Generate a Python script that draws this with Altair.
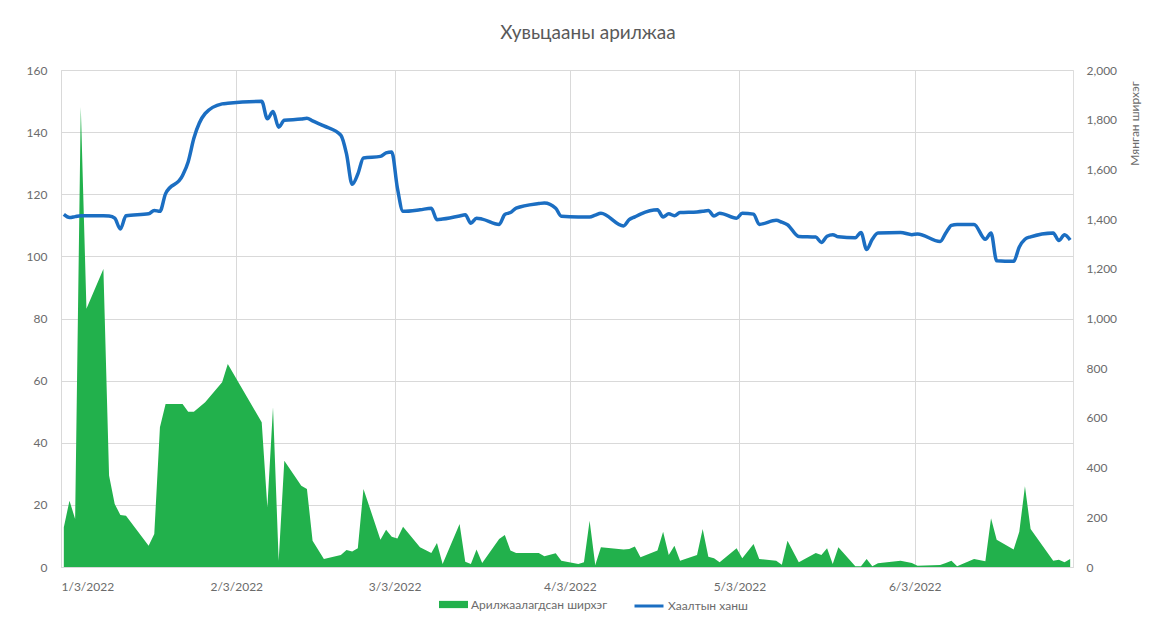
import altair as alt
import pandas as pd

FONT = "Lato"
GREEN = "#22B14C"
BLUE = "#1B6EC2"
TEXT = "#6b6b6b"
GRID = "#d9d9d9"

TITLE = "Хувьцааны арилжаа"
SERIES_AREA = "Арилжаалагдсан ширхэг"
SERIES_LINE = "Хаалтын ханш"
RIGHT_TITLE = "Мянган ширхэг"

dates = [
    "2022-01-03", "2022-01-04", "2022-01-05", "2022-01-06", "2022-01-07",
    "2022-01-10", "2022-01-11", "2022-01-12", "2022-01-13", "2022-01-14",
    "2022-01-18", "2022-01-19", "2022-01-20", "2022-01-21", "2022-01-24",
    "2022-01-25", "2022-01-26", "2022-01-28", "2022-01-31", "2022-02-01",
    "2022-02-07", "2022-02-08", "2022-02-09", "2022-02-10", "2022-02-11",
    "2022-02-14", "2022-02-15", "2022-02-16", "2022-02-18", "2022-02-21",
    "2022-02-22", "2022-02-23", "2022-02-24", "2022-02-25", "2022-02-28",
    "2022-03-01", "2022-03-02", "2022-03-03", "2022-03-04", "2022-03-07",
    "2022-03-09", "2022-03-10", "2022-03-11", "2022-03-14", "2022-03-15",
    "2022-03-16", "2022-03-17", "2022-03-18", "2022-03-21", "2022-03-22",
    "2022-03-23", "2022-03-24", "2022-03-28", "2022-03-29", "2022-03-31",
    "2022-04-01", "2022-04-04", "2022-04-05", "2022-04-06", "2022-04-07",
    "2022-04-08", "2022-04-12", "2022-04-13", "2022-04-14", "2022-04-15",
    "2022-04-18", "2022-04-19", "2022-04-20", "2022-04-21", "2022-04-22",
    "2022-04-25", "2022-04-26", "2022-04-27", "2022-04-28", "2022-04-29",
    "2022-05-02", "2022-05-03", "2022-05-05", "2022-05-06", "2022-05-09",
    "2022-05-10", "2022-05-11", "2022-05-13", "2022-05-16", "2022-05-17",
    "2022-05-18", "2022-05-19", "2022-05-20", "2022-05-23", "2022-05-24",
    "2022-05-25", "2022-05-26", "2022-05-27", "2022-05-31", "2022-06-02",
    "2022-06-03", "2022-06-07", "2022-06-08", "2022-06-09", "2022-06-10",
    "2022-06-13", "2022-06-15", "2022-06-16", "2022-06-17", "2022-06-20",
    "2022-06-21", "2022-06-22", "2022-06-23", "2022-06-27", "2022-06-28",
    "2022-06-29", "2022-06-30",
]

# traded volume, thousand shares (right axis)
volume = [
    160, 267, 193, 1851, 1039,
    1199, 368, 254, 209, 206,
    86, 133, 562, 656, 656,
    625, 625, 663, 743, 817,
    582, 240, 643, 25, 428,
    327, 314, 106, 32, 48,
    68, 62, 75, 314, 110,
    150, 122, 115, 162, 79,
    56, 97, 12, 173, 21,
    12, 70, 16, 113, 129,
    66, 56, 56, 43, 55,
    25, 12, 19, 186, 8,
    79, 70, 72, 83, 39,
    66, 142, 48, 86, 25,
    48, 153, 41, 35, 19,
    75, 35, 93, 32, 25,
    9, 106, 19, 56, 48,
    75, 12, 79, 3, 3,
    32, 3, 15, 25, 16,
    5, 8, 16, 25, 3,
    32, 23, 196, 110, 70,
    142, 325, 153, 25, 29,
    19, 32,
]

# closing price (left axis)
close = [
    113.5, 112.5, 112.8, 113.1, 113.1,
    113.1, 113.0, 112.3, 108.8, 113.1,
    113.7, 114.8, 114.5, 120.2, 126.0,
    130.5, 138.0, 146.0, 149.1, 149.3,
    149.9, 144.3, 146.6, 141.6, 143.8,
    144.2, 144.5, 143.6, 142.0, 139.0,
    133.0, 123.2, 126.5, 131.7, 132.2,
    133.3, 133.6, 122.0, 114.5, 115.0,
    115.5, 111.8, 112.0, 113.0, 113.4,
    110.7, 112.3, 112.0, 110.3, 113.5,
    114.1, 115.5, 117.0, 117.2, 115.5,
    112.9, 112.7, 112.7, 112.7, 113.3,
    113.9, 109.8, 111.8, 112.7, 113.6,
    115.0, 112.7, 113.7, 113.1, 114.1,
    114.3, 114.5, 114.8, 113.0, 113.9,
    112.3, 113.9, 113.6, 110.3, 111.6,
    111.0, 110.2, 106.4, 106.2, 104.5,
    106.5, 107.0, 106.3, 106.0, 107.7,
    102.2, 105.5, 107.5, 107.7, 107.0,
    107.2, 104.8, 107.5, 110.0, 110.3,
    110.3, 105.5, 107.5, 98.6, 98.4,
    103.0, 105.5, 106.3, 107.5, 105.1,
    107.0, 105.3,
]

x_tick_days = [(1, 3), (2, 3), (3, 3), (4, 3), (5, 3), (6, 3)]
left_ticks = [0, 20, 40, 60, 80, 100, 120, 140, 160]
right_ticks = [0, 200, 400, 600, 800, 1000, 1200, 1400, 1600, 1800, 2000]

df = pd.DataFrame({
    "date": pd.to_datetime(dates) + pd.Timedelta(hours=12),
    "volume": volume,
    "close": close,
    "area_series": SERIES_AREA,
    "line_series": SERIES_LINE,
})

x_enc = alt.X(
    "date:T",
    title=None,
    scale=alt.Scale(domain=[alt.DateTime(year=2022, month=1, date=3),
                            alt.DateTime(year=2022, month=7, date=1)]),
    axis=alt.Axis(
        values=[alt.DateTime(year=2022, month=m, date=d) for m, d in x_tick_days],
        format="%-m/%-d/%Y", labelAngle=0, ticks=False, grid=True,
        gridColor=GRID, domainColor=GRID, labelPadding=14,
        labelFontSize=12, labelColor=TEXT, labelFont=FONT,
    ),
)

legend_common = dict(
    title=None, orient="none", direction="horizontal",
    labelFontSize=12, labelColor=TEXT, labelFont=FONT, labelOffset=3,
    symbolSize=841, symbolOpacity=1,
)

area = alt.Chart(df).mark_area(interpolate="linear", opacity=1).encode(
    x=x_enc,
    y=alt.Y(
        "volume:Q",
        scale=alt.Scale(domain=[0, 2000], nice=False),
        axis=alt.Axis(
            orient="right", values=right_ticks, format=",.0f", grid=False,
            ticks=False, domain=False, labelPadding=13,
            labelFontSize=12, labelColor=TEXT, labelFont=FONT,
            title=RIGHT_TITLE, titleAngle=270, titleX=61, titleY=53,
            titleAlign="center", titleBaseline="middle",
            titleFontSize=12, titleColor=TEXT, titleFont=FONT,
            titleFontWeight="normal",
        ),
    ),
    fill=alt.Fill(
        "area_series:N",
        scale=alt.Scale(domain=[SERIES_AREA], range=[GREEN]),
        legend=alt.Legend(
            legendX=378, legendY=520, symbolType="M-1,-0.25H1V0.25H-1Z",
            symbolStrokeWidth=0, **legend_common,
        ),
    ),
)

line = alt.Chart(df).mark_line(
    strokeWidth=3.5, interpolate="monotone"
).encode(
    x=x_enc,
    y=alt.Y(
        "close:Q",
        scale=alt.Scale(domain=[0, 160], nice=False),
        axis=alt.Axis(
            orient="left", values=left_ticks, grid=True, gridColor=GRID,
            ticks=False, domain=False, labelPadding=14, title=None,
            labelFontSize=12, labelColor=TEXT, labelFont=FONT,
        ),
    ),
    stroke=alt.Stroke(
        "line_series:N",
        scale=alt.Scale(domain=[SERIES_LINE], range=[BLUE]),
        legend=alt.Legend(
            legendX=572, legendY=520, symbolType="stroke",
            symbolStrokeWidth=3, **legend_common,
        ),
    ),
)

chart = alt.layer(area, line).resolve_scale(y="independent").properties(
    width=1012,
    height=497,
    title=alt.TitleParams(
        TITLE, fontSize=19, color="#595959", font=FONT, fontWeight="normal",
        anchor="middle", dx=21, offset=2, baseline="bottom",
    ),
    autosize=alt.AutoSizeParams(type="none"),
    padding={"left": 53, "top": 62, "right": 87, "bottom": 47},
).configure_view(stroke=None).configure(font=FONT)

chart.save("out.html", embed_options={"renderer": "svg", "actions": False})
